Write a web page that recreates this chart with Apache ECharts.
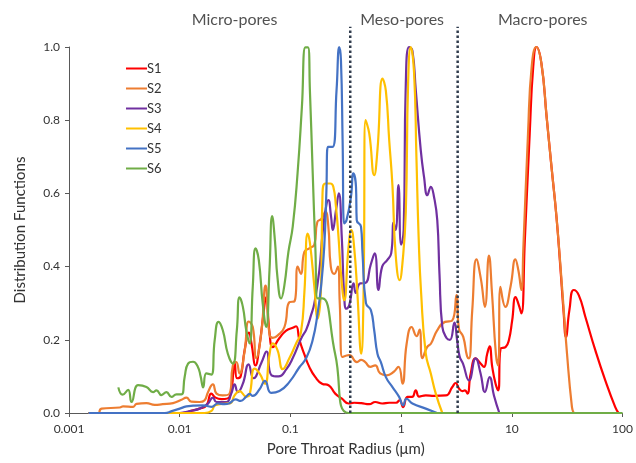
<!DOCTYPE html>
<html><head><meta charset="utf-8">
<script src="https://cdn.jsdelivr.net/npm/echarts@6/dist/echarts.min.js"></script>
<style>html,body{margin:0;padding:0;background:#fff}#c{width:636px;height:463px}</style>
</head><body><div id="c"></div>
<script>
const seriesNames = ['S1','S2','S3','S4','S5','S6'];
const s1 = [[0.0015,0],[0.0106,0],[0.0132,0.007],[0.0151,0.012],[0.0174,0.02],[0.0193,0.053],[0.0211,0.042],[0.0239,0.038],[0.0282,0.044],[0.0313,0.14],[0.033,0.095],[0.0355,0.1],[0.0385,0.17],[0.0423,0.22],[0.0445,0.19],[0.0484,0.13],[0.0526,0.185],[0.0565,0.26],[0.0604,0.317],[0.0647,0.22],[0.0693,0.18],[0.0796,0.205],[0.0915,0.225],[0.105,0.233],[0.1125,0.237],[0.1205,0.2],[0.1337,0.16],[0.148,0.126],[0.168,0.098],[0.193,0.08],[0.221,0.076],[0.254,0.053],[0.292,0.039],[0.335,0.026],[0.377,0.028],[0.436,0.027],[0.515,0.024],[0.583,0.03],[0.674,0.026],[0.78,0.028],[0.901,0.028],[0.969,0.035],[1.042,0.016],[1.14,0.044],[1.256,0.044],[1.356,0.062],[1.452,0.045],[1.67,0.048],[1.98,0.047],[2.53,0.048],[2.9,0.071],[3.11,0.082],[3.33,0.067],[3.57,0.06],[3.77,0.062],[3.97,0.053],[4.25,0.108],[4.71,0.149],[5.22,0.135],[5.6,0.126],[5.99,0.162],[6.3,0.182],[6.65,0.126],[7.13,0.08],[7.53,0.062],[7.91,0.176],[8.77,0.18],[9.4,0.199],[10.07,0.253],[10.8,0.317],[11.56,0.295],[12.2,0.272],[13.1,0.472],[14.5,0.764],[15.6,0.946],[16.7,1.0],[18.5,0.955],[20.6,0.81],[22.8,0.673],[25.3,0.536],[27.4,0.4],[29.4,0.272],[30.8,0.208],[33.1,0.281],[36.2,0.336],[40.2,0.322],[46.1,0.263],[56.8,0.171],[69.8,0.089],[85.9,0.016],[92,0]];
const s2 = [[0.00188,0],[0.00197,0.012],[0.00288,0.015],[0.00308,0.018],[0.0038,0.017],[0.00407,0.025],[0.00501,0.027],[0.00595,0.022],[0.00703,0.024],[0.00871,0.027],[0.01035,0.036],[0.0115,0.042],[0.0127,0.031],[0.0151,0.03],[0.0168,0.035],[0.018,0.057],[0.01995,0.078],[0.0215,0.053],[0.0244,0.048],[0.0282,0.053],[0.0302,0.13],[0.0324,0.139],[0.0347,0.108],[0.0385,0.167],[0.042,0.25],[0.0457,0.235],[0.0491,0.15],[0.0545,0.217],[0.0596,0.348],[0.0647,0.215],[0.0693,0.205],[0.0769,0.212],[0.0883,0.235],[0.098,0.303],[0.1087,0.305],[0.1164,0.4],[0.1245,0.38],[0.1337,0.44],[0.148,0.45],[0.1645,0.46],[0.175,0.522],[0.19,0.53],[0.2067,0.55],[0.22,0.51],[0.2316,0.4],[0.249,0.38],[0.268,0.4],[0.279,0.3],[0.294,0.153],[0.34,0.158],[0.399,0.139],[0.436,0.145],[0.474,0.139],[0.526,0.126],[0.583,0.13],[0.647,0.108],[0.743,0.103],[0.853,0.112],[0.946,0.126],[1.028,0.08],[1.122,0.19],[1.244,0.235],[1.38,0.21],[1.468,0.228],[1.556,0.15],[1.715,0.18],[1.862,0.19],[2.11,0.225],[2.49,0.249],[2.88,0.252],[3.16,0.322],[3.33,0.23],[3.64,0.208],[3.94,0.155],[4.1,0.149],[4.39,0.281],[4.79,0.42],[5.26,0.365],[5.71,0.29],[6.21,0.43],[6.61,0.33],[7.18,0.16],[7.53,0.13],[7.88,0.345],[8.74,0.29],[9.79,0.35],[10.76,0.42],[11.45,0.39],[12.2,0.336],[12.7,0.45],[14.0,0.764],[15.1,0.946],[16.6,1.0],[18.5,0.955],[20.6,0.81],[22.8,0.673],[25.3,0.536],[28.4,0.345],[31.5,0.162],[34.9,0.016],[36.2,0]];
const s3 = [[0.0015,0],[0.01,0],[0.0123,0.005],[0.0151,0.012],[0.0179,0.025],[0.01995,0.042],[0.0215,0.03],[0.0264,0.03],[0.0292,0.053],[0.0313,0.078],[0.0335,0.057],[0.0372,0.08],[0.0419,0.133],[0.0464,0.095],[0.0548,0.138],[0.0608,0.168],[0.0675,0.103],[0.078,0.1],[0.092,0.12],[0.105,0.15],[0.1256,0.205],[0.139,0.228],[0.1545,0.27],[0.1645,0.3],[0.1825,0.39],[0.195,0.49],[0.209,0.56],[0.22,0.582],[0.233,0.536],[0.2415,0.5],[0.258,0.554],[0.2735,0.6],[0.291,0.48],[0.306,0.32],[0.32,0.285],[0.34,0.295],[0.372,0.354],[0.389,0.328],[0.427,0.354],[0.474,0.355],[0.531,0.405],[0.577,0.436],[0.624,0.336],[0.674,0.4],[0.748,0.418],[0.813,0.436],[0.856,0.52],[0.891,0.5],[0.946,0.623],[1.0,0.46],[1.054,0.5],[1.102,0.9],[1.18,1.0],[1.264,0.99],[1.356,0.882],[1.504,0.718],[1.61,0.645],[1.726,0.595],[1.853,0.618],[1.98,0.591],[2.12,0.527],[2.22,0.38],[2.355,0.235],[2.57,0.205],[2.76,0.2],[3.03,0.247],[3.2,0.2],[3.37,0.155],[3.62,0.135],[4.1,0.089],[4.71,0.149],[5.22,0.108],[5.71,0.057],[6.3,0.098],[6.89,0.048],[7.71,0]];
const s4 = [[0.0015,0],[0.0168,0],[0.0194,0.006],[0.0209,0.021],[0.0264,0.026],[0.0288,0.027],[0.0313,0.048],[0.0347,0.06],[0.0399,0.045],[0.0427,0.05],[0.0474,0.121],[0.0526,0.108],[0.0589,0.08],[0.0647,0.16],[0.0693,0.19],[0.0764,0.172],[0.0853,0.12],[0.098,0.15],[0.1125,0.19],[0.1244,0.22],[0.1337,0.33],[0.143,0.49],[0.15,0.465],[0.1645,0.345],[0.176,0.258],[0.189,0.345],[0.195,0.6],[0.2067,0.627],[0.229,0.627],[0.244,0.618],[0.258,0.563],[0.272,0.48],[0.288,0.37],[0.306,0.308],[0.335,0.454],[0.355,0.5],[0.377,0.45],[0.402,0.33],[0.436,0.162],[0.457,0.317],[0.477,0.8],[0.515,0.764],[0.571,0.65],[0.611,0.718],[0.679,0.914],[0.728,0.88],[0.78,0.746],[0.835,0.62],[0.891,0.436],[0.969,0.363],[1.028,0.41],[1.102,0.55],[1.156,0.9],[1.222,1.0],[1.309,0.929],[1.374,0.7],[1.439,0.48],[1.514,0.33],[1.67,0.162],[1.853,0.108],[2.055,0.053],[2.355,0]];
const s5 = [[0.0015,0],[0.00733,0],[0.00847,0.005],[0.01,0.012],[0.0115,0.018],[0.0132,0.02],[0.0162,0.021],[0.0193,0.017],[0.0221,0.026],[0.0254,0.024],[0.0282,0.027],[0.032,0.037],[0.0355,0.033],[0.0399,0.045],[0.0427,0.052],[0.0457,0.047],[0.0526,0.065],[0.0589,0.088],[0.067,0.055],[0.0796,0.06],[0.098,0.085],[0.1205,0.125],[0.139,0.15],[0.159,0.2],[0.176,0.272],[0.189,0.345],[0.202,0.454],[0.211,0.6],[0.218,0.727],[0.24,0.727],[0.261,0.882],[0.276,1.0],[0.286,0.964],[0.296,0.746],[0.306,0.518],[0.321,0.527],[0.352,0.59],[0.37,0.655],[0.391,0.618],[0.397,0.527],[0.434,0.509],[0.448,0.436],[0.481,0.3],[0.533,0.281],[0.571,0.226],[0.611,0.162],[0.656,0.139],[0.728,0.098],[0.835,0.071],[0.959,0.044],[1.042,0.021],[1.116,0.039],[1.264,0.026],[1.67,0.012],[2.11,0]];
const s6 = [[0.00279,0.07],[0.00305,0.05],[0.00342,0.063],[0.00367,0.03],[0.00421,0.076],[0.00501,0.071],[0.00574,0.057],[0.00617,0.062],[0.00684,0.049],[0.00759,0.057],[0.00842,0.044],[0.00934,0.051],[0.01035,0.051],[0.0111,0.1],[0.0119,0.135],[0.0132,0.14],[0.0146,0.126],[0.01545,0.1],[0.0163,0.07],[0.0174,0.108],[0.0193,0.105],[0.0207,0.199],[0.0224,0.249],[0.0245,0.226],[0.0272,0.162],[0.0302,0.135],[0.0328,0.226],[0.0347,0.316],[0.0372,0.29],[0.0399,0.226],[0.0427,0.19],[0.0457,0.345],[0.0484,0.45],[0.0518,0.418],[0.0562,0.299],[0.0604,0.235],[0.0647,0.39],[0.0684,0.538],[0.0725,0.47],[0.0764,0.37],[0.0824,0.313],[0.0883,0.35],[0.0959,0.44],[0.105,0.51],[0.116,0.655],[0.127,0.837],[0.1365,0.999],[0.144,0.999],[0.15,0.88],[0.159,0.655],[0.168,0.45],[0.176,0.313],[0.195,0.313],[0.254,0.16],[0.335,0],[1,0],[100,0]];
const xTickLabels = ['0.001','0.01','0.1','1','10','100'];
const yTickLabels = ['0.0','0.2','0.4','0.6','0.8','1.0'];
const boundaries = [0.347, 3.24];
const regionLabels = ['Micro-pores','Meso-pores','Macro-pores'];
const regionLabelX = [0.0313, 1.02, 19.0];
const colors = ['#FF0000','#ED7D31','#7030A0','#FFC000','#4472C4','#70AD47'];

const font = 'Lato, "Open Sans", sans-serif';
const chart = echarts.init(document.getElementById('c'));
const dataSeries = [s1,s2,s3,s4,s5,s6].map((d,i)=>({
  name: seriesNames[i], type:'line', data:d, smooth:0.5,
  showSymbol:false, symbol:'none', clip:false, z:2+i,
  lineStyle:{color:colors[i], width:2.2}, itemStyle:{color:colors[i]}
}));
const boundarySeries = boundaries.map(b=>({
  type:'line', data:[[b,0],[b,1.055]], symbol:'none', silent:true, clip:false, z:20,
  lineStyle:{color:'#2F3B4C', width:2.5, type:'dotted'}
}));
const labelSeries = {
  type:'scatter', symbolSize:0, silent:true, clip:false, z:21,
  data: regionLabels.map((t,i)=>({name:t, value:[regionLabelX[i], 1.074]})),
  label:{show:true, position:'inside', formatter:'{b}', fontFamily:font, fontSize:16, color:'#262626'}
};
chart.setOption({
  animation:false,
  backgroundColor:'#fff',
  grid:{left:69, top:47, width:555, height:366, containLabel:false},
  legend:{data:seriesNames, orient:'vertical', left:121, top:57, itemWidth:21, itemHeight:2, icon:'rect',
    itemGap:7, selectedMode:false, textStyle:{fontFamily:font, fontSize:13, color:'#333333', padding:[0,0,0,-5]}},
  xAxis:{type:'log', logBase:10, min:0.001, max:100,
    name:'Pore Throat Radius (μm)', nameLocation:'middle', nameGap:29,
    nameTextStyle:{fontFamily:font, fontSize:15, color:'#333333'},
    axisLine:{show:true, lineStyle:{color:'#595959', width:1}},
    axisTick:{show:true, length:4, lineStyle:{color:'#595959'}},
    minorTick:{show:false}, splitLine:{show:false},
    axisLabel:{margin:10, fontFamily:font, fontSize:12, color:'#333333',
      formatter:v=>xTickLabels[Math.round(Math.log10(v))+3]}},
  yAxis:{type:'value', min:0, max:1, interval:0.2,
    name:'Distribution Functions', nameLocation:'middle', nameGap:41,
    nameTextStyle:{fontFamily:font, fontSize:15, color:'#333333'},
    axisLine:{show:true, lineStyle:{color:'#595959', width:1}},
    axisTick:{show:true, length:4, lineStyle:{color:'#595959'}},
    splitLine:{show:false},
    axisLabel:{margin:9, fontFamily:font, fontSize:12, color:'#333333',
      formatter:v=>yTickLabels[Math.round(v/0.2)]}},
  series:[...dataSeries, ...boundarySeries, labelSeries]
});
</script></body></html>
